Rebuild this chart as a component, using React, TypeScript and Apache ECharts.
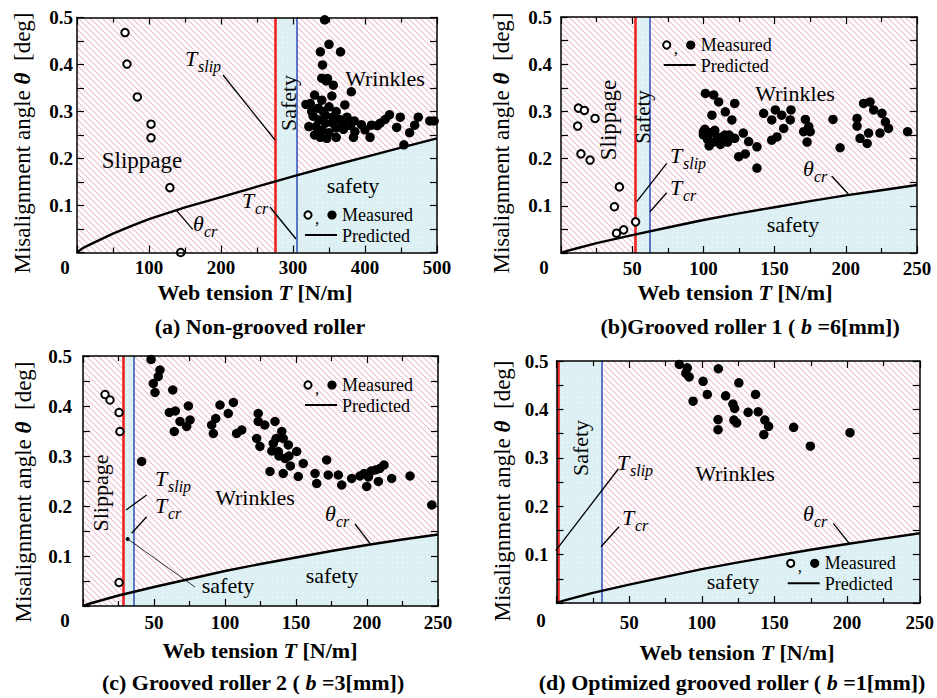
import React, { useEffect, useRef } from 'react';
import * as echarts from 'echarts';

const FONT = 'Liberation Serif, Times New Roman, Times, serif';

// ---------- (a) Non-grooved roller ----------
const aTslip = 275;
const aTcr = 305;
const aCurveT = [0, 5, 10, 25, 50, 75, 100, 150, 200, 250, 300, 350, 400, 450, 500];
const aCurveTheta = [0, 0.006, 0.011, 0.022, 0.04, 0.056, 0.071, 0.096, 0.118, 0.14, 0.162, 0.183, 0.203, 0.223, 0.243];
const aOpen = [[66.7, 0.468], [69.4, 0.401], [83.8, 0.331], [102.8, 0.273], [102.8, 0.244], [129, 0.138], [144, 0.0]];
const aFilled = [
  [344, 0.495], [350, 0.443], [338, 0.427], [366, 0.427], [341, 0.399], [340, 0.371], [346, 0.365], [348, 0.37],
  [356, 0.356], [381, 0.342], [330, 0.335], [354, 0.333], [340, 0.324], [372, 0.314], [324, 0.317], [335, 0.307],
  [342, 0.3], [350, 0.31], [360, 0.3], [328, 0.29], [336, 0.282], [345, 0.292], [355, 0.288], [365, 0.283],
  [375, 0.288], [385, 0.28], [395, 0.272], [332, 0.268], [322, 0.268], [340, 0.26], [350, 0.255], [360, 0.265],
  [370, 0.262], [380, 0.27], [386, 0.257], [400, 0.261], [409, 0.271], [421, 0.275], [434, 0.293], [444, 0.266],
  [449, 0.288], [469, 0.271], [474, 0.288], [490, 0.28], [454, 0.229], [347, 0.243], [360, 0.245], [384, 0.245],
  [407, 0.245], [330, 0.25], [338, 0.245], [326, 0.3], [318, 0.315], [370, 0.275], [355, 0.275], [345, 0.275],
  [462, 0.255], [428, 0.283], [496, 0.28], [417, 0.27],
];

// ---------- (b) Grooved roller 1 (b = 6 mm) ----------
const bTslip = 52;
const bTcr = 62;
const bCurveT = [0, 5, 10, 25, 50, 75, 100, 125, 150, 175, 200, 225, 250];
const bCurveTheta = [0, 0.005, 0.009, 0.021, 0.038, 0.054, 0.07, 0.084, 0.097, 0.11, 0.122, 0.133, 0.144];
const bOpen = [[12.2, 0.307], [16.4, 0.302], [23.9, 0.285], [11.7, 0.269], [14, 0.21], [20.4, 0.197], [41, 0.14], [37.5, 0.098], [39, 0.042], [44, 0.049], [52.4, 0.066]];
const bFilled = [
  [101.4, 0.338], [107.2, 0.335], [110.7, 0.32], [106, 0.292], [115.4, 0.299], [122, 0.317], [120, 0.282], [100, 0.257],
  [102.5, 0.246], [114, 0.246], [122, 0.243], [128, 0.254], [131.8, 0.236], [137.6, 0.225], [124.8, 0.204], [129.4, 0.21],
  [137.6, 0.18], [142.3, 0.296], [148, 0.282], [150.5, 0.303], [155, 0.292], [161.5, 0.303], [161, 0.282], [156.4, 0.264],
  [151.7, 0.246], [148, 0.239], [171.6, 0.283], [174, 0.268], [170.4, 0.257], [175, 0.257], [172.8, 0.235], [191, 0.283],
  [196, 0.223], [207.9, 0.285], [207.9, 0.269], [212.5, 0.317], [217, 0.32], [219.6, 0.303], [225.4, 0.296], [227.8, 0.278],
  [230, 0.264], [224, 0.254], [216, 0.254], [210, 0.243], [215, 0.232], [243.4, 0.257], [100, 0.25], [103, 0.24],
  [105, 0.255], [107, 0.235], [110, 0.245], [112, 0.23], [115, 0.25], [117, 0.235], [104, 0.227], [108, 0.26],
  [101, 0.262], [118, 0.25],
];

// ---------- (c) Grooved roller 2 (b = 3 mm) ----------
const cTslip = 28.5;
const cTcr = 35.5;
const cCurveT = [0, 5, 10, 25, 50, 75, 100, 125, 150, 175, 200, 225, 250];
const cCurveTheta = [0, 0.005, 0.009, 0.021, 0.038, 0.054, 0.07, 0.084, 0.097, 0.11, 0.122, 0.133, 0.143];
const cOpen = [[15.5, 0.423], [19, 0.412], [25.4, 0.387], [26, 0.349], [25.4, 0.047]];
const cFilled = [
  [47.9, 0.493], [54.2, 0.472], [53, 0.459], [49.5, 0.445], [50.7, 0.427], [63.2, 0.432], [60.8, 0.387], [65, 0.39],
  [74.2, 0.4], [68.3, 0.369], [75.4, 0.372], [73, 0.359], [64.3, 0.349], [41.3, 0.289], [96.5, 0.402], [90.6, 0.362],
  [91.8, 0.345], [93.5, 0.375], [105.9, 0.407], [102.3, 0.385], [108.2, 0.345], [111.8, 0.352], [123.4, 0.385],
  [123.4, 0.369], [128, 0.362], [135.2, 0.369], [122.3, 0.335], [124.6, 0.319], [140, 0.349], [141, 0.335], [134, 0.325],
  [144.6, 0.322], [137.5, 0.309], [150.5, 0.309], [142.3, 0.295], [155.1, 0.285], [146, 0.28], [138, 0.3], [131.7, 0.269],
  [141, 0.265], [151.6, 0.259], [163.4, 0.265], [171.6, 0.292], [172.7, 0.262], [164.6, 0.245], [179.8, 0.262],
  [182.2, 0.242], [189.2, 0.255], [195, 0.26], [198, 0.265], [201, 0.258], [203, 0.27], [206, 0.272], [209, 0.275],
  [212, 0.282], [199.8, 0.239], [208, 0.249], [217.4, 0.255], [230.3, 0.26], [245.6, 0.202], [133, 0.31], [136, 0.335],
  [145, 0.3],
];

// ---------- (d) Optimized grooved roller (b = 1 mm) ----------
const dTslip = 1;
const dTcr = 31;
const dCurveT = [0, 5, 10, 25, 50, 75, 100, 125, 150, 175, 200, 225, 250];
const dCurveTheta = [0, 0.005, 0.009, 0.021, 0.038, 0.054, 0.07, 0.084, 0.097, 0.11, 0.122, 0.133, 0.144];
const dOpen: number[][] = [];
const dFilled = [
  [84.5, 0.493], [90, 0.486], [89, 0.475], [91.3, 0.467], [111.4, 0.484], [100.9, 0.458], [125.5, 0.455], [103.8, 0.431],
  [116.4, 0.428], [137, 0.431], [94, 0.417], [121.4, 0.411], [122.6, 0.402], [131.9, 0.394], [138.8, 0.395], [111.2, 0.379],
  [122.1, 0.378], [124, 0.372], [111.2, 0.358], [143.4, 0.378], [146, 0.365], [142.7, 0.348], [163.2, 0.363], [174.7, 0.324],
  [202, 0.352],
];

const Y_MAX = 0.5;
const Y_INTERVAL = 0.1;

const panels = [
  { grid: { left: 77, top: 17.5, width: 360, height: 235 }, xMax: 500, xInt: 100, tSlip: aTslip, tCr: aTcr, curveT: aCurveT, curveTh: aCurveTheta, open: aOpen, filled: aFilled, xm: 5, ym: 4 },
  { grid: { left: 561, top: 17, width: 356, height: 236 }, xMax: 250, xInt: 50, tSlip: bTslip, tCr: bTcr, curveT: bCurveT, curveTh: bCurveTheta, open: bOpen, filled: bFilled, xm: 6, ym: 9 },
  { grid: { left: 83, top: 356, width: 355, height: 250 }, xMax: 250, xInt: 50, tSlip: cTslip, tCr: cTcr, curveT: cCurveT, curveTh: cCurveTheta, open: cOpen, filled: cFilled, xm: 7, ym: 11 },
  { grid: { left: 556.5, top: 361, width: 364.5, height: 242 }, xMax: 250, xInt: 50, tSlip: dTslip, tCr: dTcr, curveT: dCurveT, curveTh: dCurveTheta, open: dOpen, filled: dFilled, xm: 10, ym: 8 },
];

function interp(ts: number[], ths: number[], t: number) {
  for (let k = 1; k < ts.length; k++) {
    if (t <= ts[k]) {
      const f = (t - ts[k - 1]) / (ts[k] - ts[k - 1]);
      return ths[k - 1] + f * (ths[k] - ths[k - 1]);
    }
  }
  return ths[ths.length - 1];
}

function makeHatch() {
  const s = 6;
  const c = document.createElement('canvas');
  c.width = s;
  c.height = s;
  const ctx = c.getContext('2d')!;
  ctx.fillStyle = '#ffffff';
  ctx.fillRect(0, 0, s, s);
  ctx.strokeStyle = '#ebbfd1';
  ctx.lineWidth = 1.1;
  ctx.beginPath();
  ctx.moveTo(-1, -1); ctx.lineTo(s + 1, s + 1);
  ctx.moveTo(-1, s - 1); ctx.lineTo(1, s + 1);
  ctx.moveTo(s - 1, -1); ctx.lineTo(s + 1, 1);
  ctx.stroke();
  return { image: c, repeat: 'repeat', imageWidth: s, imageHeight: s };
}

function makeDots() {
  const s = 5;
  const c = document.createElement('canvas');
  c.width = s;
  c.height = s;
  const ctx = c.getContext('2d')!;
  ctx.fillStyle = '#dcf0f4';
  ctx.fillRect(0, 0, s, s);
  ctx.fillStyle = '#f4fbfc';
  ctx.fillRect(2, 2, 1, 1);
  return { image: c, repeat: 'repeat', imageWidth: s, imageHeight: s };
}

function buildGraphics() {
  const G: any[] = [];
  const T = (x: number, y: number, text: string, size: number, o: any = {}) =>
    G.push({
      type: 'text', x, y, rotation: o.rot || 0, z: 100, silent: true,
      style: {
        text, fill: '#000',
        fontFamily: FONT, fontSize: size,
        fontStyle: o.it ? 'italic' : 'normal',
        fontWeight: o.bold ? 'bold' : 'normal',
        align: o.align || 'center', verticalAlign: 'middle',
        textAlign: o.align || 'center', textVerticalAlign: 'middle',
      },
    });
  const R = (x: number, y: number, text: string, rich: any, o: any = {}) =>
    G.push({
      type: 'text', x, y, rotation: o.rot || 0, z: 100, silent: true,
      style: { text, rich, fill: '#000', fontFamily: FONT, align: 'center', verticalAlign: 'middle', textAlign: 'center', textVerticalAlign: 'middle' },
    });
  const L = (x1: number, y1: number, x2: number, y2: number, w = 1.3) =>
    G.push({ type: 'line', z: 100, silent: true, shape: { x1, y1, x2, y2 }, style: { stroke: '#000', lineWidth: w } });
  const C = (cx: number, cy: number, r: number, filled: boolean) =>
    G.push({ type: 'circle', z: 100, silent: true, shape: { cx, cy, r }, style: filled ? { fill: '#000' } : { fill: '#fff', stroke: '#000', lineWidth: 2 } });
  const SUB = (x: number, y: number, main: string, sub: string) => {
    T(x, y, main, 22, { it: true, align: 'left' });
    T(x + (main === 'T' ? 13 : 11), y + 8, sub, 16, { it: true, align: 'left' });
  };
  const legend = (x: number, y: number) => {
    C(x, y, 3.6, false);
    T(x + 7, y + 3, ',', 17, { align: 'left' });
    C(x + 24, y, 4.6, true);
    T(x + 34, y, 'Measured', 18, { align: 'left' });
    L(x - 3, y + 20, x + 29, y + 20, 2);
    T(x + 34, y + 21, 'Predicted', 18, { align: 'left' });
  };
  const rot = Math.PI / 2;

  // corner zeros
  T(65, 267, '0', 19, { bold: true });
  T(544, 267, '0', 19, { bold: true });
  T(65, 620, '0', 19, { bold: true });
  T(541, 620, '0', 19, { bold: true });

  // axis names
  const xr = {
    n: { fontFamily: FONT, fontSize: 22, fontWeight: 'bold', fill: '#000' },
    i: { fontFamily: FONT, fontSize: 22, fontWeight: 'bold', fontStyle: 'italic', fill: '#000' },
  };
  const xName = '{n|Web tension }{i|T}{n| [N/m]}';
  R(255, 292, xName, xr);
  R(735, 292, xName, xr);
  R(260, 650, xName, xr);
  R(737, 652, xName, xr);
  const yr = {
    n: { fontFamily: FONT, fontSize: 23, fill: '#000' },
    i: { fontFamily: FONT, fontSize: 23, fontWeight: 'bold', fontStyle: 'italic', fill: '#000' },
  };
  const yName = '{n|Misalignment angle }{i|θ}{n|  [deg]}';
  R(22, 143, yName, yr, { rot });
  R(501, 143, yName, yr, { rot });
  R(23, 492, yName, yr, { rot });
  R(502, 491, yName, yr, { rot });

  // subtitles
  const sr = {
    n: { fontFamily: FONT, fontSize: 22, fontWeight: 'bold', fill: '#000' },
    i: { fontFamily: FONT, fontSize: 22, fontWeight: 'bold', fontStyle: 'italic', fill: '#000' },
  };
  R(260, 326, '{n|(a) Non-grooved roller}', sr);
  R(750, 326, '{n|(b)Grooved roller 1 ( }{i|b}{n| =6[mm])}', sr);
  R(253, 682, '{n|(c) Grooved roller 2 ( }{i|b}{n| =3[mm])}', sr);
  R(732, 682, '{n|(d) Optimized grooved roller ( }{i|b}{n| =1[mm])}', sr);

  // (a)
  T(142, 160, 'Slippage', 23);
  T(385, 78, 'Wrinkles', 22);
  T(288, 103, 'Safety', 22, { rot });
  T(353, 185, 'safety', 22);
  SUB(185, 58, 'T', 'slip');
  L(223, 75, 275, 140);
  SUB(242, 200, 'T', 'cr');
  L(270, 207, 296, 239);
  SUB(193, 223, 'θ', 'cr');
  L(192.7, 229.3, 176.7, 210.7);
  legend(308, 215);

  // (b)
  T(608, 120, 'Slippage', 23, { rot });
  T(643, 117, 'Safety', 21, { rot });
  T(795, 93, 'Wrinkles', 22);
  T(793, 224, 'safety', 22);
  SUB(670, 155, 'T', 'slip');
  L(666.7, 163.3, 636.7, 201.7);
  SUB(670, 187, 'T', 'cr');
  L(666.7, 192.7, 650, 211.7);
  SUB(803, 168, 'θ', 'cr');
  L(831.7, 176, 848.3, 194);
  legend(666.7, 45);

  // (c)
  T(100, 493, 'Slippage', 22, { rot });
  T(255, 497, 'Wrinkles', 22);
  T(228, 585, 'safety', 22);
  T(332, 575, 'safety', 22);
  SUB(155, 478, 'T', 'slip');
  L(146.7, 495, 126, 510);
  SUB(155, 505, 'T', 'cr');
  L(146.7, 516.7, 131.7, 533.3);
  C(127.7, 539, 2, true);
  L(127.7, 539, 195, 587, 0.8);
  SUB(325, 513, 'θ', 'cr');
  L(355, 524, 370, 543.3);
  legend(308, 385);

  // (d)
  T(580, 448, 'Safety', 22, { rot });
  T(735, 473, 'Wrinkles', 22);
  T(733, 581, 'safety', 22);
  SUB(617, 462, 'T', 'slip');
  L(618.3, 469, 555.7, 550.7);
  SUB(622, 517, 'T', 'cr');
  L(619, 526.7, 601, 546.7);
  SUB(803, 513, 'θ', 'cr');
  L(833.3, 523.3, 849.3, 543.3);
  legend(790.7, 563.3);

  return G;
}

function buildOption() {
  const hatch = makeHatch();
  const dots = makeDots();
  const grid: any[] = [];
  const xAxis: any[] = [];
  const yAxis: any[] = [];
  const series: any[] = [];
  const lineStyle = { color: '#000', width: 1.5 };
  const tickStyle = { color: '#000', width: 1.2 };

  panels.forEach((p, i) => {
    grid.push({ ...p.grid, containLabel: false, show: false });
    const xBase = {
      gridIndex: i, type: 'value', min: 0, max: p.xMax, interval: p.xInt, z: 10,
      axisLine: { show: true, onZero: false, lineStyle },
      axisTick: { show: true, inside: true, length: 7, lineStyle: tickStyle },
      minorTick: { show: true, splitNumber: 2, length: 5, lineStyle: tickStyle },
      splitLine: { show: false },
    };
    xAxis.push({
      ...xBase, position: 'bottom',
      axisLabel: { show: true, margin: p.xm, fontFamily: FONT, fontWeight: 'bold', fontSize: 19, color: '#000', formatter: (v: number) => (v === 0 ? '' : String(v)) },
    });
    xAxis.push({ ...xBase, position: 'top', axisLabel: { show: false } });
    const yBase = {
      gridIndex: i, type: 'value', min: 0, max: Y_MAX, interval: Y_INTERVAL, z: 10,
      axisLine: { show: true, onZero: false, lineStyle },
      axisTick: { show: true, inside: true, length: 7, lineStyle: tickStyle },
      minorTick: { show: true, splitNumber: 2, length: 7, lineStyle: tickStyle },
      splitLine: { show: false },
    };
    yAxis.push({
      ...yBase, position: 'left',
      axisLabel: { show: true, margin: p.ym, fontFamily: FONT, fontWeight: 'bold', fontSize: 19, color: '#000', formatter: (v: number) => (v === 0 ? '' : v.toFixed(1)) },
    });
    yAxis.push({ ...yBase, position: 'right', axisLabel: { show: false } });

    const xi = 2 * i;
    const yi = 2 * i;
    // background regions
    series.push({
      type: 'custom', xAxisIndex: xi, yAxisIndex: yi, silent: true, z: 1, clip: false,
      data: [[0, 0]],
      renderItem: (_params: any, api: any) => {
        const tl = api.coord([0, Y_MAX]);
        const br = api.coord([p.xMax, 0]);
        const pts: number[][] = [];
        pts.push(api.coord([p.tSlip, Y_MAX]));
        pts.push(api.coord([p.tCr, Y_MAX]));
        pts.push(api.coord([p.tCr, interp(p.curveT, p.curveTh, p.tCr)]));
        p.curveT.forEach((t, k) => {
          if (t > p.tCr) pts.push(api.coord([t, p.curveTh[k]]));
        });
        pts.push(api.coord([p.xMax, 0]));
        pts.push(api.coord([p.tSlip, 0]));
        return {
          type: 'group',
          children: [
            { type: 'rect', shape: { x: tl[0], y: tl[1], width: br[0] - tl[0], height: br[1] - tl[1] }, style: { fill: hatch } },
            { type: 'polygon', shape: { points: pts }, style: { fill: dots } },
          ],
        };
      },
    });
    // predicted curve with T_slip / T_cr lines
    series.push({
      type: 'line', xAxisIndex: xi, yAxisIndex: yi, z: 3, symbol: 'none', silent: true,
      data: p.curveT.map((t, k) => [t, p.curveTh[k]]),
      lineStyle: { color: '#000', width: 2.4 },
      markLine: {
        silent: true, symbol: ['none', 'none'], label: { show: false }, z: 2,
        data: [
          { xAxis: p.tSlip, lineStyle: { color: '#ee2424', width: 2.6, type: 'solid' } },
          { xAxis: p.tCr, lineStyle: { color: '#3558b8', width: 1.6, type: 'solid' } },
        ],
      },
    });
    series.push({
      type: 'scatter', xAxisIndex: xi, yAxisIndex: yi, z: 4, symbol: 'circle', symbolSize: 7.5,
      data: p.open, itemStyle: { color: '#fff', borderColor: '#000', borderWidth: 2, opacity: 1 },
    });
    series.push({
      type: 'scatter', xAxisIndex: xi, yAxisIndex: yi, z: 4, symbol: 'circle', symbolSize: 9.5,
      data: p.filled, itemStyle: { color: '#000', opacity: 1 },
    });
  });

  return {
    animation: false,
    backgroundColor: '#fff',
    grid, xAxis, yAxis, series,
    graphic: { elements: buildGraphics() },
  };
}

export default function App() {
  const ref = useRef<HTMLDivElement>(null);
  useEffect(() => {
    if (!ref.current) return;
    const chart = echarts.init(ref.current, null, { renderer: 'svg', width: 937, height: 698 });
    chart.setOption(buildOption() as any);
    return () => chart.dispose();
  }, []);
  return <div ref={ref} style={{ position: 'fixed', left: 0, top: 0, width: 937, height: 698, background: '#fff' }} />;
}
